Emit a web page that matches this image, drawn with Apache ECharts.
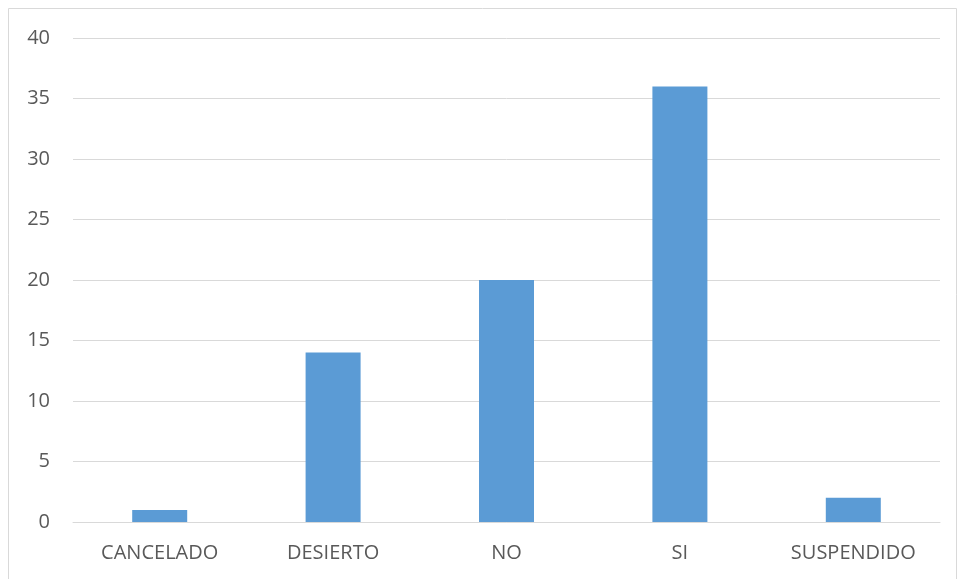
<!DOCTYPE html>
<html><head><meta charset="utf-8">
<script src="https://cdn.jsdelivr.net/npm/echarts@6/dist/echarts.min.js"></script>
<style>html,body{margin:0;padding:0;background:#fff}#c{width:958px;height:579px}</style>
</head><body><div id="c"></div>
<script>
const categories = ['CANCELADO','DESIERTO','NO','SI','SUSPENDIDO'];
const values = [1, 14, 20, 36, 2];
const chart = echarts.init(document.getElementById('c'));
chart.setOption({
  animation:false,
  graphic:[{type:'rect',shape:{x:8.5,y:8.5,width:948,height:600},style:{fill:'none',stroke:'#d9d9d9',lineWidth:1}}],
  grid:{left:73,right:18,top:38,bottom:57},
  xAxis:{type:'category',data:categories,
    axisLine:{lineStyle:{color:'#d9d9d9',width:1}},axisTick:{show:false},
    axisLabel:{color:'#595959',fontFamily:'Open Sans',fontSize:20,margin:21}},
  yAxis:{type:'value',min:0,max:40,interval:5,
    axisLine:{show:false},axisTick:{show:false},
    splitLine:{lineStyle:{color:'#d9d9d9',width:1}},
    axisLabel:{color:'#595959',fontFamily:'Open Sans',fontSize:20,margin:23}},
  series:[{type:'bar',data:values,barWidth:55,itemStyle:{color:'#5B9BD5'}}]
});
</script></body></html>
